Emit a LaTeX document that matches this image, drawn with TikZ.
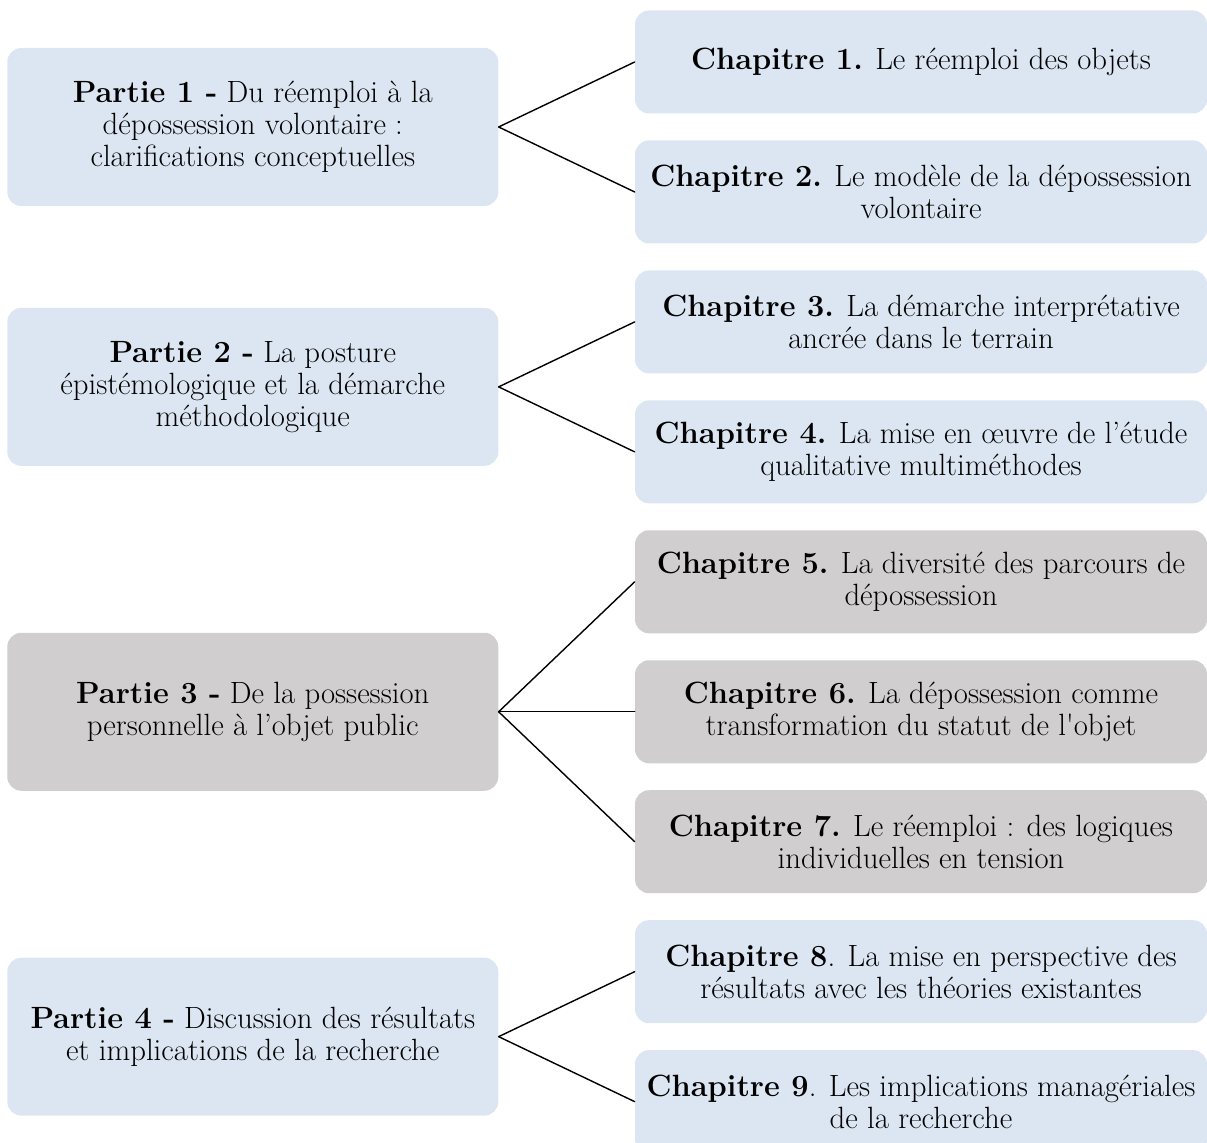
\documentclass[tikz,border=0pt]{standalone}
\usetikzlibrary{positioning,calc}
\definecolor{lightblue}{HTML}{DCE6F2}
\definecolor{lightgray}{HTML}{D0CECE}
\begin{document}
\begin{tikzpicture}[line join=round, line cap=round, node distance=0.525cm,
    box/.style={rounded corners=0.28cm, align=center, inner sep=0pt, font=\fontsize{17.5}{18.3}\selectfont},
    part/.style={box, minimum width=9.82cm, minimum height=3.16cm},
    chap/.style={box, minimum width=11.44cm, minimum height=2.06cm}]
    \useasboundingbox (0,0) rectangle (24.14,-22.84);
    \node[chap, fill=lightblue] (ch1) at (18.42,-1.24) {\textbf{Chapitre 1.} Le réemploi des objets};
    \node[chap, fill=lightblue, below=of ch1] (ch2) {\textbf{Chapitre 2.} Le modèle de la dépossession\\volontaire};
    \node[chap, fill=lightblue, below=of ch2] (ch3) {\textbf{Chapitre 3.} La démarche interprétative\\ancrée dans le terrain};
    \node[chap, fill=lightblue, below=of ch3] (ch4) {\textbf{Chapitre 4.} La mise en œuvre de l’étude\\qualitative multiméthodes};
    \node[chap, fill=lightgray, below=of ch4] (ch5) {\textbf{Chapitre 5.} La diversité des parcours de\\dépossession};
    \node[chap, fill=lightgray, below=of ch5] (ch6) {\textbf{Chapitre 6.} La dépossession comme\\transformation du statut de l\textquotesingle objet};
    \node[chap, fill=lightgray, below=of ch6] (ch7) {\textbf{Chapitre 7.} Le réemploi : des logiques\\individuelles en tension};
    \node[chap, fill=lightblue, below=of ch7] (ch8) {\textbf{Chapitre 8}. La mise en perspective des\\résultats avec les théories existantes};
    \node[chap, fill=lightblue, below=of ch8] (ch9) {\textbf{Chapitre 9}. Les implications managériales\\de la recherche};
    \coordinate (m1) at ($(ch1.west)!0.5!(ch2.west)$);
    \coordinate (m2) at ($(ch3.west)!0.5!(ch4.west)$);
    \coordinate (m4) at ($(ch8.west)!0.5!(ch9.west)$);
    \node[part, fill=lightblue, left=2.72cm of m1] (p1) {\textbf{Partie 1 -} Du réemploi à la\\dépossession volontaire :\\clarifications conceptuelles};
    \node[part, fill=lightblue, left=2.72cm of m2] (p2) {\textbf{Partie 2 -} La posture\\épistémologique et la démarche\\méthodologique};
    \node[part, fill=lightgray, left=2.72cm of ch6] (p3) {\textbf{Partie 3 -} De la possession\\personnelle à l’objet public};
    \node[part, fill=lightblue, left=2.72cm of m4] (p4) {\textbf{Partie 4 -} Discussion des résultats\\et implications de la recherche};
    \foreach \p/\c in {p1/ch1,p1/ch2,p2/ch3,p2/ch4,p3/ch5,p3/ch6,p3/ch7,p4/ch8,p4/ch9}
        \draw[line width=0.8pt] (\p.east) -- (\c.west);
\end{tikzpicture}
\end{document}
